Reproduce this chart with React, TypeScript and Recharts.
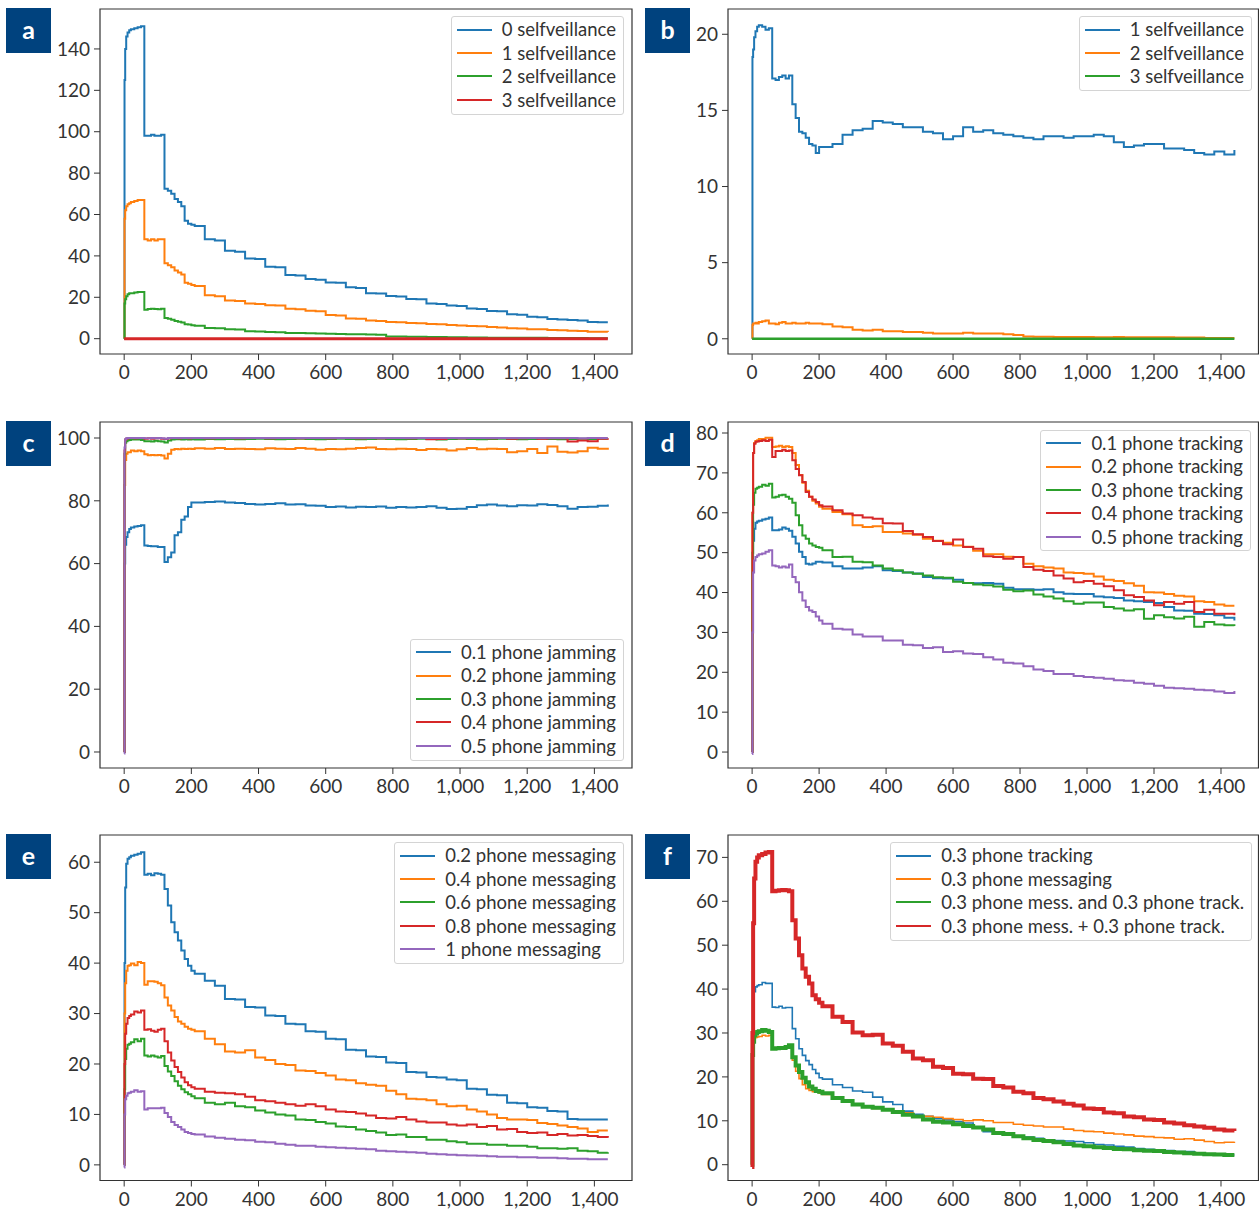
import React from 'react';
import { LineChart, Line, XAxis, YAxis, Legend, ReferenceArea } from 'recharts';

// shared time axis (minutes)
const minutes = [
  0, 1, 3, 6, 10, 15, 20, 30, 40, 50,
  60, 70, 80, 90, 100, 110,
  120, 130, 140, 150, 160, 170, 180, 190, 200, 210,
  240, 270, 300, 330, 360, 390, 420, 450, 480, 510,
  540, 570, 600, 630, 660, 690, 720, 750, 780, 810,
  840, 870, 900, 930, 960, 990, 1020, 1050, 1080, 1110,
  1140, 1170, 1200, 1230, 1260, 1290, 1320, 1350, 1380, 1410,
  1440,
];
const xTicks = [0, 200, 400, 600, 800, 1000, 1200, 1400];

// a: selfveillance
const aSelf0 = [
  0, 125, 140, 146, 148, 149, 149.5, 150, 150.5, 151,
  98, 98, 98.5, 98, 98, 98.5,
  72.5, 71.5, 70, 67.5, 66, 64, 57, 55.5, 55, 54.5,
  48, 47.5, 42.5, 42, 38.8, 38.5, 34.8, 34.5, 30.8, 30.5,
  28.8, 28.5, 27.2, 27, 24.8, 24.5, 22, 21.8, 20.6, 20.4,
  19.2, 19, 17, 16.8, 16, 15.8, 14.6, 14.4, 13.4, 13.2,
  11.8, 11.6, 10.6, 10.4, 9.5, 9.3, 9, 8.8, 8.1, 8,
  8,
];
const aSelf1 = [
  0, 58, 62, 64, 65, 65.5, 66, 66.5, 67, 67,
  48, 47.5, 48, 47.5, 48, 48,
  36.4, 35.5, 34.5, 33, 32, 31, 27, 26.5, 26, 25.5,
  21, 20.5, 18.5, 18.2, 17, 16.8, 16.2, 16, 14.5, 14.2,
  13.5, 13.2, 11.4, 11.2, 9.8, 9.6, 8.8, 8.6, 8.1, 8,
  7.6, 7.4, 7.1, 7, 6.6, 6.4, 6.1, 6, 5.6, 5.4,
  5, 4.9, 4.6, 4.5, 4.2, 4.1, 3.8, 3.7, 3.4, 3.3,
  3.2,
];
const aSelf2 = [
  0, 17, 19, 20.5, 21.5, 22, 22, 22.3, 22.5, 22.5,
  14, 14.3, 14.5, 14.3, 14.2, 14.5,
  10, 9.6, 9.1, 8.6, 8.2, 7.8, 7, 6.8, 6.5, 6.2,
  5.2, 5, 4.6, 4.4, 3.6, 3.5, 3.2, 3.1, 2.8, 2.7,
  2.6, 2.5, 2.4, 2.3, 2.2, 2.1, 2, 1.9, 1.1, 1,
  0.9, 0.9, 0.8, 0.8, 0.7, 0.7, 0.6, 0.6, 0.5, 0.5,
  0.5, 0.4, 0.4, 0.4, 0.3, 0.3, 0.3, 0.3, 0.2, 0.2,
  0.2,
];
const aSelf3 = [
  0, 0, 0, 0, 0, 0, 0, 0, 0, 0,
  0, 0, 0, 0, 0, 0,
  0, 0, 0, 0, 0, 0, 0, 0, 0, 0,
  0, 0, 0, 0, 0, 0, 0, 0, 0, 0,
  0, 0, 0, 0, 0, 0, 0, 0, 0, 0,
  0, 0, 0, 0, 0, 0, 0, 0, 0, 0,
  0, 0, 0, 0, 0, 0, 0, 0, 0, 0,
  0,
];

// b: selfveillance (1..3)
const bSelf1 = [
  0, 18.5, 19, 19.8, 20.2, 20.5, 20.6, 20.5, 20.3, 20.4,
  17.1, 17, 17.2, 17.3, 17.1, 17.3,
  15.4, 14.5, 13.6, 13.5, 13.2, 12.8, 12.7, 12.2, 12.6, 12.6,
  12.8, 13.4, 13.7, 13.8, 14.3, 14.2, 14.1, 13.9, 13.9, 13.6,
  13.5, 13.1, 13.3, 13.9, 13.6, 13.7, 13.5, 13.4, 13.3, 13.2,
  13.1, 13.3, 13.3, 13.2, 13.3, 13.3, 13.4, 13.3, 12.9, 12.6,
  12.7, 12.8, 12.8, 12.5, 12.5, 12.4, 12.2, 12.1, 12.3, 12.1,
  12.4,
];
const bSelf2 = [
  0, 0.9, 1, 1, 1.05, 1, 1.1, 1.15, 1.2, 1,
  1, 0.95, 1.05, 1.1, 1, 1,
  1.05, 1, 1, 1, 1.05, 1, 1, 1, 1, 0.95,
  0.8, 0.75, 0.6, 0.55, 0.6, 0.5, 0.5, 0.45, 0.45, 0.4,
  0.35, 0.35, 0.35, 0.4, 0.35, 0.35, 0.35, 0.3, 0.25, 0.15,
  0.13, 0.13, 0.12, 0.12, 0.12, 0.12, 0.1, 0.1, 0.12, 0.1,
  0.1, 0.1, 0.1, 0.1, 0.08, 0.08, 0.08, 0.05, 0.05, 0.05,
  0.05,
];
const bSelf3 = [
  0, 0, 0, 0, 0, 0, 0, 0, 0, 0,
  0, 0, 0, 0, 0, 0,
  0, 0, 0, 0, 0, 0, 0, 0, 0, 0,
  0, 0, 0, 0, 0, 0, 0, 0, 0, 0,
  0, 0, 0, 0, 0, 0, 0, 0, 0, 0,
  0, 0, 0, 0, 0, 0, 0, 0, 0, 0,
  0, 0, 0, 0, 0, 0, 0, 0, 0, 0,
  0,
];

// c: phone jamming
const cJam1 = [
  0, 60, 66, 68.5, 70, 71, 71.5, 71.8, 72, 72.2,
  65.8, 65.6, 65.5, 65.5, 65.3, 65.3,
  60.5, 62, 63.5, 69, 70, 74, 75, 78, 79.5, 79.5,
  79.6, 79.8, 79.5, 79.3, 79, 78.8, 79, 79.2, 78.8, 78.9,
  78.5, 78.4, 78, 78.2, 77.9, 78.1, 78, 78.2, 77.8, 78,
  77.9, 78, 78.3, 77.8, 77.4, 77.5, 78, 78.6, 78.8, 78.5,
  78.3, 78.6, 78.5, 78.9, 78.7, 78.3, 77.5, 78, 78.1, 78.4,
  78.8,
];
const cJam2 = [
  0, 85, 93, 95, 95.5, 95.5, 96, 95.8, 96, 95.8,
  94.8, 94.5, 94.6, 94.5, 94.6, 94.4,
  93.5, 95, 96.3, 96.5, 96.4, 96.6, 96.5, 96.6, 96.5, 96.7,
  96.6, 96.8, 96.5, 96.6, 96.5, 96.4, 96.7, 96.6, 96.5, 96.8,
  96.6, 96.3, 96.5, 96.4, 96.6, 96.8, 97, 96.5, 96.4, 96.6,
  96.5, 96.2, 96.5, 96.4, 96, 96.4, 96.8, 96.4, 96.6, 96.5,
  95.5, 95.8, 96.5, 95.2, 97.3, 95.6, 95.4, 95.8, 96.9, 96.6,
  96.9,
];
const cJam3 = [
  0, 95, 98.5, 99, 99.3, 99.4, 99.5, 99.5, 99.5, 99.4,
  99, 99, 98.9, 99.1, 99, 98.9,
  98.6, 99.2, 99.5, 99.6, 99.6, 99.5, 99.6, 99.5, 99.6, 99.5,
  99.7, 99.6, 99.7, 99.6, 99.7, 99.8, 99.7, 99.6, 99.7, 99.8,
  99.7, 99.6, 99.7, 99.8, 99.7, 99.6, 99.7, 99.8, 99.7, 99.6,
  99.7, 99.8, 99.7, 99.5, 99.7, 99.8, 99.7, 99.6, 99.7, 99.8,
  99.7, 99.6, 99.7, 99.8, 99.7, 99.6, 99.7, 99.8, 99.7, 99.8,
  99.8,
];
const cJam4 = [
  0, 96, 99.5, 99.8, 99.9, 100, 100, 99.9, 100, 100,
  99.8, 99.9, 99.8, 99.9, 99.9, 99.8,
  99.7, 99.9, 100, 100, 99.9, 100, 100, 99.9, 100, 100,
  99.9, 100, 100, 99.9, 100, 100, 99.9, 100, 100, 99.9,
  100, 100, 99.9, 100, 100, 99.9, 100, 99.9, 100, 100,
  99.9, 100, 99.6, 99.7, 100, 99.9, 100, 100, 99.9, 100,
  99.8, 99.9, 100, 99.8, 99.9, 99.9, 98.9, 99.2, 99, 99.8,
  99.9,
];
const cJam5 = [
  -0.5, 97, 99.6, 99.9, 100, 100, 100, 100, 100, 100,
  99.9, 99.9, 100, 99.9, 100, 99.9,
  99.8, 100, 100, 100, 100, 100, 100, 100, 100, 100,
  100, 100, 100, 100, 100, 100, 100, 100, 100, 100,
  100, 100, 100, 100, 100, 100, 100, 100, 100, 100,
  100, 100, 100, 100, 100, 100, 100, 100, 100, 100,
  100, 100, 100, 100, 100, 100, 100, 99.9, 100, 100,
  100,
];

// d: phone tracking
const dTrack1 = [
  0, 45, 53, 56, 57.5, 57.8, 58, 58.3, 58.5, 58.8,
  55.6, 55.6, 55.8, 56.3, 56, 55.5,
  54, 52.3, 50.2, 48.9, 47.2, 47, 47.3, 47.7, 47.7, 47.5,
  46.6, 46, 46, 46.3, 46.6, 45.6, 45.4, 45, 44.8, 43.9,
  43.6, 43.5, 43.2, 42.4, 42.3, 42.4, 42.2, 41.2, 40.8, 40.8,
  40.7, 40.8, 40.1, 39.7, 39.6, 39.6, 39, 38.8, 38.6, 38,
  37.8, 37.6, 37.4, 36.4, 35.5, 35.4, 34.7, 34.6, 34.3, 33.7,
  33,
];
const dTrack2 = [
  0, 60, 75, 77.5, 78, 78.2, 78.5, 78.5, 78.8, 78.8,
  76.5, 76.6, 76.8, 76.5, 76.7, 76.5,
  75, 72, 69.5, 67.5, 65.5, 64, 63, 62.3, 61.5, 61,
  60.2, 59.6, 56.9, 56.4, 56.6, 55.2, 55.2, 54.8, 54.5, 53.5,
  53, 52.5, 51.8, 51.5, 50.5, 49.6, 49.6, 49, 48.9, 47.2,
  46.6, 46.3, 46, 45, 44.9, 44.7, 44, 43.2, 42.9, 42.3,
  41.7, 40.1, 40, 39.6, 39.2, 39, 37.8, 37.6, 37, 36.7,
  36.7,
];
const dTrack3 = [
  0, 50, 62, 65, 66, 66.3, 66.5, 67, 66.8, 67.3,
  63.8, 64, 64.4, 64.5, 64, 63.5,
  62.5, 59.4, 56.9, 54.3, 53.5, 52.3, 51.8, 51.4, 51.2, 50.6,
  48.9, 49, 47.7, 47.6, 46.8, 46, 45.6, 45, 44.7, 44.3,
  43.8, 43.7, 42.7, 42.4, 42, 41.8, 41.5, 40.7, 40.3, 40.5,
  39.5, 39, 38.5, 37.8, 37.2, 37.5, 37.5, 36.4, 36, 35.5,
  35.8, 33.4, 34.3, 33.8, 33.5, 33.9, 31.4, 32.6, 32, 31.8,
  31.6,
];
const dTrack4 = [
  0, 60, 75, 77.3, 77.8, 77.9, 78, 78.2, 78, 78.3,
  74, 75.5, 75.5, 75.8, 75.5, 75.6,
  73.2, 71, 69.4, 67.7, 65.2, 64, 63.3, 62.7, 61.9, 61.6,
  60.6, 59.8, 59.4, 58.8, 58.5, 57.4, 57.3, 55.4, 54.6, 53.9,
  52.9, 52.1, 53.3, 51.4, 51, 49.1, 48.9, 48.5, 48.9, 46.4,
  45.7, 45.4, 44.3, 43.5, 42.6, 42.9, 42.2, 41.6, 40.6, 39.3,
  38.9, 38, 36.8, 37.6, 37.2, 37.6, 35.1, 35.7, 34.7, 34.7,
  34.3,
];
const dTrack5 = [
  -0.5, 30, 45, 48, 48.9, 49.3, 49.6, 49.8, 50.2, 50.6,
  46.8, 46.6, 46.3, 46.5, 46.3, 47,
  43.9, 42.6, 40.1, 38, 36.4, 35.5, 35.1, 34, 33, 32.2,
  30.9, 30.7, 29.5, 29, 29, 28, 28, 26.9, 26.8, 26.1,
  26.3, 25.1, 25.3, 24.7, 24.6, 23.8, 23.2, 22.4, 22.2, 21.5,
  20.7, 20.3, 19.6, 19.6, 19.1, 18.8, 18.6, 18.4, 18, 17.9,
  17.4, 17.1, 16.6, 16.1, 16, 15.9, 15.6, 15.5, 15.2, 14.8,
  15.3,
];

// e: phone messaging
const eMsg02 = [
  0, 40, 55, 59.7, 60.7, 61, 61.3, 61.5, 61.7, 62,
  57.5, 57.7, 57.4, 57.8, 57.7, 57.5,
  54.7, 51.4, 48.1, 46.1, 44.5, 42.5, 40.8, 39.5, 38.5, 37.9,
  36.5, 35.5, 32.9, 32.8, 31.3, 31.2, 29.6, 29.5, 28, 27.9,
  26.5, 26.4, 25, 24.9, 22.8, 22.7, 21.5, 21.4, 20.3, 20.2,
  18.4, 18.3, 17.4, 17.3, 16.9, 16.8, 15.1, 15, 13.9, 13.8,
  12.3, 12.2, 11.4, 11.3, 10.7, 10.6, 9.1, 9, 9, 9,
  9,
];
const eMsg04 = [
  0, 30, 36, 38.5, 39.5, 39.6, 39.9, 39.6, 40.2, 40,
  35.7, 36.4, 36.4, 36.3, 36, 35.6,
  33.2, 31.6, 30.6, 29.3, 28.4, 28, 27.4, 27, 26.8, 26.5,
  25, 23.9, 22.5, 22.3, 22.7, 21.3, 20.8, 20, 19.8, 18.7,
  18.6, 18.2, 17.7, 16.9, 16.8, 16.2, 15.9, 15.7, 14.7, 14,
  13.1, 13, 12.8, 12, 11.6, 11.7, 11, 10.6, 10, 9.3,
  9, 9, 8.9, 8.3, 8.1, 7.8, 7.5, 7.2, 6.5, 6.8,
  6.8,
];
const eMsg06 = [
  0, 15, 21, 23, 23.8, 24, 24.3, 24.9, 24.5, 25,
  21.7, 21.5, 21.7, 21.5, 21.3, 21.6,
  19.6, 18.5, 17.6, 16.6, 15.7, 15, 14.4, 14, 13.6, 13.2,
  12.3, 12, 12.3, 11.6, 11.4, 10.8, 10.4, 10, 9.8, 9,
  8.9, 8.5, 8.2, 7.6, 7.5, 7, 6.7, 6.4, 5.9, 6,
  5.5, 5.5, 5, 5, 4.7, 4.5, 4.2, 4.2, 4, 4,
  3.8, 3.8, 3.6, 3.3, 3.3, 3.2, 3.3, 2.8, 2.7, 2.4,
  2.5,
];
const eMsg08 = [
  0, 20, 26, 28, 29.1, 29.5, 29.8, 30.4, 30.2, 30.6,
  26.8, 26.9, 26.6, 26.4, 26.8, 27,
  24.5, 22.3, 20.7, 19.4, 18.4, 17.3, 16.4, 15.8, 15.4, 15.1,
  14.5, 14.3, 14.2, 14, 13.5, 12.8, 12.6, 12.3, 12, 11.7,
  12, 11.6, 11, 10.6, 10.5, 10.2, 9.8, 9.3, 9.2, 9.5,
  9, 8.6, 8.4, 8.4, 8, 7.8, 8, 7.5, 7.7, 7,
  7.1, 6.5, 6.3, 6.4, 5.9, 6.1, 5.8, 5.9, 5.7, 5.5,
  5.4,
];
const eMsg1 = [
  -0.5, 10, 13, 13.7, 14.2, 14.3, 14.5, 14.8, 14.5, 14.6,
  11, 11.2, 11.2, 11.2, 11.2, 11.3,
  10.3, 9.5, 8.5, 7.9, 7.5, 7, 6.5, 6.3, 6.1, 6,
  5.6, 5.4, 5.2, 5, 4.9, 4.6, 4.5, 4.2, 4, 3.8,
  3.8, 3.6, 3.5, 3.4, 3.3, 3.2, 3.1, 2.8, 2.7, 2.6,
  2.5, 2.4, 2.2, 2.1, 2, 1.9, 1.85, 1.8, 1.7, 1.6,
  1.6, 1.5, 1.5, 1.4, 1.4, 1.3, 1.2, 1.2, 1.1, 1.1,
  1.1,
];

// f: combined interventions
const fTrack = [
  0, 30, 37, 39.4, 40.5, 40.8, 41, 41.5, 41.3, 41.3,
  35.9, 35.8, 36.1, 35.7, 35.8, 35.8,
  31, 28.7, 26.4, 24.9, 23.7, 22.8, 21.7, 20.8, 19.8, 19.5,
  18.2, 17.6, 16.8, 16.5, 15.4, 14.3, 13.7, 12.2, 11.5, 11,
  10.5, 10.2, 9.8, 9.5, 8.6, 7.5, 7.3, 6.8, 6.6, 6.3,
  6, 5.6, 5.5, 5.4, 5.3, 5, 4.6, 4.5, 4.2, 4,
  3.7, 3.5, 3.3, 3.2, 3, 3, 2.7, 2.5, 2.4, 2.2,
  2.2,
];
const fMsg = [
  0, 26, 28, 28.8, 29, 29.1, 29.2, 29.5, 29.3, 29.5,
  26.4, 26.5, 26.6, 26.5, 26.6, 26.8,
  23.8, 21.3, 19.6, 18.2, 17.3, 16.9, 16.6, 16.5, 16.3, 16,
  15.3, 14.5, 13.8, 13.3, 12.8, 12.5, 12.2, 11.8, 11.1, 11,
  10.8, 10.5, 10.3, 10, 10.2, 10, 9.6, 9.6, 9.2, 9,
  8.8, 8.6, 8.6, 8.1, 7.8, 7.6, 7.5, 7.2, 7, 6.8,
  6.5, 6.4, 6.2, 6.1, 5.8, 5.9, 5.6, 5.3, 5, 5.1,
  5.2,
];
const fMessAndTrack = [
  0, 25, 28, 29.5, 29.9, 30.2, 30.4, 30.7, 30.5, 30.2,
  26.4, 26.5, 26.6, 26.6, 26.8, 27.2,
  24.5, 22.6, 21.1, 19.8, 18.8, 17.8, 17.3, 16.8, 16.6, 16.3,
  15.2, 14.5, 13.7, 13.2, 13, 12.5, 12, 11.4, 11, 10.3,
  9.8, 9.6, 9.2, 8.8, 8.5, 8, 7.2, 7, 6.5, 6,
  5.6, 5.4, 5.1, 4.7, 4.4, 4.2, 4, 3.8, 3.6, 3.5,
  3.3, 3.2, 3.1, 2.9, 2.8, 2.6, 2.5, 2.4, 2.3, 2.2,
  2.2,
];
const fMessPlusTrack = [
  -0.5, 30, 55, 65.2, 69, 70, 70.5, 70.8, 71.1, 71.2,
  62.3, 62.4, 62.5, 62.6, 62.5, 62.3,
  55.7, 51.5, 47.7, 44.7, 42.8, 41.3, 38.6, 37.7, 36.9, 36.1,
  33.7, 32.5, 30.1, 29.5, 29.6, 27.6, 27.1, 25.7, 24.2, 23.8,
  22.3, 22, 20.7, 20.6, 19.6, 19.5, 17.9, 17.6, 16.6, 16.3,
  15.2, 14.9, 14.4, 13.9, 13.5, 12.8, 12.7, 11.9, 11.7, 11,
  10.8, 10.3, 10.2, 9.6, 9.4, 9, 8.7, 8.4, 8, 7.8,
  7.7,
];

const BLUE = '#1f77b4';
const ORANGE = '#ff7f0e';
const GREEN = '#2ca02c';
const RED = '#d62728';
const PURPLE = '#9467bd';
const INK = '#333333';
const X_DOMAIN: [number, number] = [-72, 1512];

type Series = { name: string; color: string; values: number[]; width?: number };
type Panel = {
  letter: string;
  left: number;
  top: number;
  width: number;
  height: number;
  yDomain: [number, number];
  yTicks: number[];
  series: Series[];
  legend: { right: number; top?: number; bottom?: number };
};

const LEFT_COL = { left: 100, width: 532 };
const RIGHT_COL = { left: 727.5, width: 530.5 };
const ROWS = [
  { top: 9, height: 345 },
  { top: 422, height: 346 },
  { top: 834.5, height: 345.5 },
];

const panels: Panel[] = [
  {
    letter: 'a', ...LEFT_COL, ...ROWS[0],
    yDomain: [-7.4, 159.3], yTicks: [0, 20, 40, 60, 80, 100, 120, 140],
    series: [
      { name: '0 selfveillance', color: BLUE, values: aSelf0 },
      { name: '1 selfveillance', color: ORANGE, values: aSelf1 },
      { name: '2 selfveillance', color: GREEN, values: aSelf2 },
      { name: '3 selfveillance', color: RED, values: aSelf3, width: 3 },
    ],
    legend: { right: 8, top: 7 },
  },
  {
    letter: 'b', ...RIGHT_COL, ...ROWS[0],
    yDomain: [-1.0, 21.66], yTicks: [0, 5, 10, 15, 20],
    series: [
      { name: '1 selfveillance', color: BLUE, values: bSelf1 },
      { name: '2 selfveillance', color: ORANGE, values: bSelf2 },
      { name: '3 selfveillance', color: GREEN, values: bSelf3, width: 2.5 },
    ],
    legend: { right: 6, top: 7 },
  },
  {
    letter: 'c', ...LEFT_COL, ...ROWS[1],
    yDomain: [-5.1, 105.1], yTicks: [0, 20, 40, 60, 80, 100],
    series: [
      { name: '0.1 phone jamming', color: BLUE, values: cJam1 },
      { name: '0.2 phone jamming', color: ORANGE, values: cJam2 },
      { name: '0.3 phone jamming', color: GREEN, values: cJam3 },
      { name: '0.4 phone jamming', color: RED, values: cJam4 },
      { name: '0.5 phone jamming', color: PURPLE, values: cJam5 },
    ],
    legend: { right: 8, bottom: 7.5 },
  },
  {
    letter: 'd', ...RIGHT_COL, ...ROWS[1],
    yDomain: [-4.0, 82.76], yTicks: [0, 10, 20, 30, 40, 50, 60, 70, 80],
    series: [
      { name: '0.1 phone tracking', color: BLUE, values: dTrack1 },
      { name: '0.2 phone tracking', color: ORANGE, values: dTrack2 },
      { name: '0.3 phone tracking', color: GREEN, values: dTrack3 },
      { name: '0.4 phone tracking', color: RED, values: dTrack4 },
      { name: '0.5 phone tracking', color: PURPLE, values: dTrack5 },
    ],
    legend: { right: 7, top: 7.5 },
  },
  {
    letter: 'e', ...LEFT_COL, ...ROWS[2],
    yDomain: [-3.1, 65.4], yTicks: [0, 10, 20, 30, 40, 50, 60],
    series: [
      { name: '0.2 phone messaging', color: BLUE, values: eMsg02 },
      { name: '0.4 phone messaging', color: ORANGE, values: eMsg04 },
      { name: '0.6 phone messaging', color: GREEN, values: eMsg06 },
      { name: '0.8 phone messaging', color: RED, values: eMsg08 },
      { name: '1 phone messaging', color: PURPLE, values: eMsg1 },
    ],
    legend: { right: 8, top: 7.5 },
  },
  {
    letter: 'f', ...RIGHT_COL, ...ROWS[2],
    yDomain: [-3.6, 75.1], yTicks: [0, 10, 20, 30, 40, 50, 60, 70],
    series: [
      { name: '0.3 phone tracking', color: BLUE, values: fTrack, width: 1.6 },
      { name: '0.3 phone messaging', color: ORANGE, values: fMsg, width: 1.6 },
      { name: '0.3 phone mess. and 0.3 phone track.', color: GREEN, values: fMessAndTrack, width: 4 },
      { name: '0.3 phone mess. + 0.3 phone track.', color: RED, values: fMessPlusTrack, width: 4 },
    ],
    legend: { right: 6, top: 7.5 },
  },
];

// legend drawn in series order (Recharts sorts payload by name otherwise)
function LegendBox({ series }: { series: Series[] }) {
  return (
    <div
      style={{
        background: 'rgba(255,255,255,0.85)',
        border: '1px solid #d4d4d4',
        borderRadius: 3,
        padding: '1px 7px 2px 5px',
      }}
    >
      {series.map((s) => (
        <div key={s.name} style={{ display: 'flex', alignItems: 'center', height: 23.4 }}>
          <span
            style={{
              display: 'inline-block',
              width: 35,
              height: 0,
              borderTop: `2px solid ${s.color}`,
              marginRight: 10,
            }}
          />
          <span style={{ fontSize: 18.5, color: INK, whiteSpace: 'nowrap', lineHeight: 1 }}>{s.name}</span>
        </div>
      ))}
    </div>
  );
}

function PanelChart({ p }: { p: Panel }) {
  const data = minutes.map((t, i) => {
    const row: Record<string, number> = { t };
    p.series.forEach((s, k) => {
      row['s' + k] = s.values[i];
    });
    return row;
  });
  const rightMargin = p.left + p.width + 5 > 1259 ? 1 : 5;
  const chartW = p.width + 60 + rightMargin;
  const chartH = p.height + 45;
  const legendStyle: React.CSSProperties =
    p.legend.bottom !== undefined
      ? { left: 'auto', top: 'auto', right: rightMargin + p.legend.right, bottom: 40 + p.legend.bottom, width: 'auto' }
      : { left: 'auto', right: rightMargin + p.legend.right, top: 5 + (p.legend.top ?? 0), width: 'auto' };

  return (
    <div style={{ position: 'absolute', left: p.left - 60, top: p.top - 5 }}>
      <LineChart
        width={chartW}
        height={chartH}
        data={data}
        margin={{ top: 5, right: rightMargin, left: 0, bottom: 0 }}
      >
        <XAxis
          type="number"
          dataKey="t"
          domain={X_DOMAIN}
          ticks={xTicks}
          interval={0}
          allowDataOverflow
          tickFormatter={(v: number) => v.toLocaleString('en-US')}
          tick={{ fontSize: 19, fill: INK, fontFamily: 'Lato' }}
          tickLine={{ stroke: INK }}
          tickSize={6}
          tickMargin={6}
          axisLine={false}
          height={40}
        />
        <YAxis
          type="number"
          domain={p.yDomain}
          ticks={p.yTicks}
          interval={0}
          allowDataOverflow
          tick={{ fontSize: 19, fill: INK, fontFamily: 'Lato' }}
          tickLine={{ stroke: INK }}
          tickSize={6}
          tickMargin={4}
          axisLine={false}
          width={60}
        />
        {p.series.map((s, k) => (
          <Line
            key={s.name}
            type="stepAfter"
            dataKey={'s' + k}
            name={s.name}
            stroke={s.color}
            strokeWidth={s.width ?? 2}
            dot={false}
            activeDot={false}
            isAnimationActive={false}
          />
        ))}
        <ReferenceArea
          x1={X_DOMAIN[0]}
          x2={X_DOMAIN[1]}
          y1={p.yDomain[0]}
          y2={p.yDomain[1]}
          fill="none"
          stroke={INK}
          strokeWidth={1.2}
          ifOverflow="visible"
        />
        <Legend
          layout="vertical"
          align="center"
          verticalAlign="middle"
          wrapperStyle={legendStyle}
          content={() => <LegendBox series={p.series} />}
        />
      </LineChart>
    </div>
  );
}

export default function App() {
  return (
    <div
      style={{
        position: 'absolute',
        left: 0,
        top: 0,
        width: 1259,
        height: 1210,
        overflow: 'hidden',
        background: '#fff',
        fontFamily: 'Lato, "DejaVu Sans", sans-serif',
      }}
    >
      {panels.map((p) => (
        <React.Fragment key={p.letter}>
          <PanelChart p={p} />
          <div
            style={{
              position: 'absolute',
              left: p.left < 400 ? 6 : 645,
              top: p.top - 1,
              width: 45,
              height: 45,
              background: '#00427e',
              color: '#fff',
              fontWeight: 700,
              fontSize: 25,
              lineHeight: '42px',
              textAlign: 'center',
            }}
          >
            {p.letter}
          </div>
        </React.Fragment>
      ))}
    </div>
  );
}
